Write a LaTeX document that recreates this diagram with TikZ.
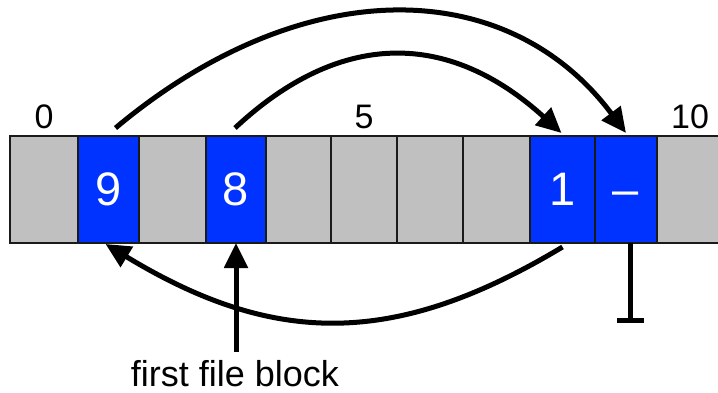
\documentclass[tikz,border=0pt]{standalone}
\usepackage{fontspec}
\setmainfont{Liberation Sans}
\usetikzlibrary{arrows.meta}
\definecolor{cellgray}{HTML}{C0C0C0}
\definecolor{cellblue}{HTML}{0033FF}
\definecolor{edgecol}{HTML}{1A1A1A}
\begin{document}
\begin{tikzpicture}[x=1pt,y=-1pt,
  cell/.style={draw=edgecol, line width=2pt, minimum height=107pt, inner sep=0pt, outer sep=0pt,
    font=\fontsize{47}{56}\selectfont, text=white},
  free/.style={cell, fill=cellgray},
  used/.style={cell, fill=cellblue},
  idx/.style={font=\fontsize{34}{40}\selectfont, anchor=base, inner sep=0pt},
  link/.style={line width=5pt, -{Triangle[length=25pt,width=23pt]}},
  endmark/.style={line width=5pt, -{Bar[width=27pt]}},
]
\useasboundingbox (0,0) rectangle (718,393);
\clip (0,0) rectangle (718,393);
% disk blocks
\node[free, minimum width=68pt] (c0) at (44,189.5) {};
\node[used, minimum width=61pt] (c1) at (108.5,189.5) {9};
\node[free, minimum width=67pt] (c2) at (172.5,189.5) {};
\node[used, minimum width=60pt] (c3) at (236,189.5) {8};
\node[free, minimum width=65pt] (c4) at (298.5,189.5) {};
\node[free, minimum width=66pt] (c5) at (364,189.5) {};
\node[free, minimum width=66pt] (c6) at (430,189.5) {};
\node[free, minimum width=67pt] (c7) at (496.5,189.5) {};
\node[used, minimum width=65pt] (c8) at (562.5,189.5) {1};
\node[used, minimum width=62pt] (c9) at (626,189.5) {\vphantom{9}–};
\node[free, minimum width=66pt] (c10) at (690,189.5) {};
% indices
\node[idx] (i0) at (44,129) {0};
\node[idx] (i5) at (364,129) {5};
\node[idx] (i10) at (690,129) {10};
% label
\node[font=\fontsize{36}{42}\selectfont, anchor=base, inner sep=0pt] (lbl) at (235,386) {first file block};
% links
\draw[link] ([shift={(7,-8)}]c1.north) .. controls +(185,-155) and +(-120,-160) .. ([yshift=3pt]c9.north);
\draw[link] ([shift={(-1,-8)}]c3.north) .. controls +(105,-98) and +(-113.5,-103) .. ([shift={(-1,-3)}]c8.north);
\draw[link] ([shift={(0,4)}]c8.south) .. controls +(-166.5,100) and +(169.5,103) .. ([shift={(-3,1)}]c1.south);
\draw[link, shorten <=8pt] (c3.south |- lbl.north) -- (c3.south);
\coordinate (gnd) at (630,323);
\draw[endmark] ([xshift=4pt]c9.south) -- (gnd);
\end{tikzpicture}
\end{document}
